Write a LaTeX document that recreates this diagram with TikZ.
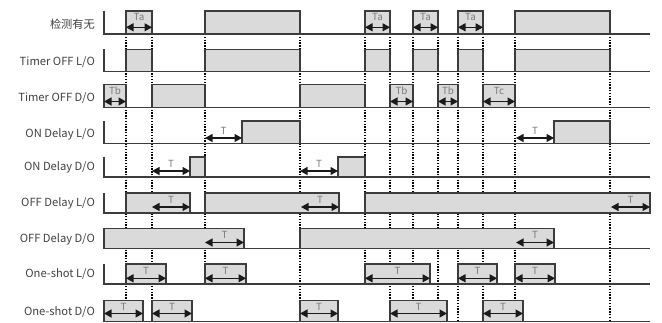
\documentclass[tikz,border=0pt]{standalone}
\usepackage{fontspec}
\setmainfont{Noto Sans CJK SC}
\usetikzlibrary{arrows.meta}
\definecolor{labc}{HTML}{404040}
\definecolor{tc}{HTML}{7A7A7A}
\definecolor{linec}{HTML}{3C3C3C}
\definecolor{boxfill}{HTML}{DADADA}
\definecolor{arrc}{HTML}{1A1A1A}
\begin{document}
\begin{tikzpicture}[x=1pt,y=-1pt,
  lab/.style={anchor=east, font=\fontsize{11.2}{13}\selectfont, text=labc, inner sep=0pt},
  tlab/.style={font=\fontsize{9.8}{11}\selectfont, text=tc, inner sep=0pt},
  sig/.style={draw=linec, fill=boxfill, line width=1.2pt},
  baseln/.style={draw=linec, line width=1.3pt},
  tarrow/.style={{Triangle[length=7.5pt,width=8pt]}-{Triangle[length=7.5pt,width=8pt]}, line width=1.3pt, draw=arrc, fill=arrc},
  guide/.style={dash pattern=on 1.4pt off 1.4pt, line width=1.1pt, black}]
\useasboundingbox (0,0) rectangle (662,323);

% labels
\node[lab] (l1) at (95,24.5) {检测有无};
\node[lab] (l2) at (95,62) {Timer OFF L/O};
\node[lab] (l3) at (95,98) {Timer OFF D/O};
\node[lab] (l4) at (95,134) {ON Delay L/O};
\node[lab] (l5) at (95,167.5) {ON Delay D/O};
\node[lab] (l6) at (95,203.5) {OFF Delay L/O};
\node[lab] (l7) at (95,239) {OFF Delay D/O};
\node[lab] (l8) at (95,274.5) {One-shot L/O};
\node[lab] (l9) at (95,312) {One-shot D/O};

% dotted guide lines
\foreach \x/\e in {126/300,152/300,205/264,300/300,365/264,390/300,413/300,438/300,458/322,483/300,515/300,610/322}
  \draw[guide] (\x,34) -- (\x,\e);

% baselines
\draw[baseln] (104,11) -- (104,34) -- (650,34);
\draw[baseln] (104,49.5) -- (104,71.5) -- (650,71.5);
\draw[baseln] (104,107.5) -- (650,107.5);
\draw[baseln] (104,121) -- (104,143.5) -- (650,143.5);
\draw[baseln] (104,157) -- (104,177) -- (650,177);
\draw[baseln] (104,193) -- (104,213) -- (650,213);
\draw[baseln] (104,248.5) -- (650,248.5);
\draw[baseln] (104,264) -- (104,284) -- (650,284);
\draw[baseln] (104,321.5) -- (650,321.5);

% row 1
\foreach \a/\b in {126/152,205/300,365/390,413/438,458/483,515/610}
  \draw[sig] (\a,11) rectangle (\b,34);
\foreach \a/\b in {126/152,365/390,413/438,458/483}{
  \draw[tarrow] (\a,27.3) -- (\b,27.3);
  \node[tlab] (ta\a) at ({(\a+\b)/2},17.3) {Ta};}

% row 2
\foreach \a/\b in {126/152,205/300,365/390,413/438,458/483,515/610}
  \draw[sig] (\a,49.5) rectangle (\b,71.5);

% row 3
\foreach \a/\b in {104/126,152/205,300/365,390/413,438/458,483/515}
  \draw[sig] (\a,84.5) rectangle (\b,107.5);
\foreach \a/\b/\t in {104/126/Tb,390/413/Tb,438/458/Tb,483/515/Tc}{
  \draw[tarrow] (\a,101.5) -- (\b,101.5);
  \node[tlab] (tb\a) at ({(\a+\b)/2},91) {\t};}

% row 4
\foreach \a/\b in {242/300,554/610}
  \draw[sig] (\a,121) rectangle (\b,143.5);
\foreach \a/\b in {205/242,516/554}{
  \draw[tarrow] (\a,138) -- (\b,138);
  \node[tlab] (td\a) at ({(\a+\b)/2},130.5) {T};}

% row 5
\foreach \a/\b in {190/205,338/365}
  \draw[sig] (\a,157) rectangle (\b,177);
\foreach \a/\b in {152/190,300/338}{
  \draw[tarrow] (\a,171) -- (\b,171);
  \node[tlab] (te\a) at ({(\a+\b)/2},163.5) {T};}

% row 6
\foreach \a/\b in {126/190,205/339,365/650}
  \draw[sig] (\a,193) rectangle (\b,213);
\foreach \a/\b in {152/190,301/339,611/650}{
  \draw[tarrow] (\a,207) -- (\b,207);
  \node[tlab] (tf\a) at ({(\a+\b)/2},199.5) {T};}

% row 7
\foreach \a/\b in {104/244,300/554}
  \draw[sig] (\a,228.5) rectangle (\b,248.5);
\foreach \a/\b in {205/244,516/554}{
  \draw[tarrow] (\a,242.5) -- (\b,242.5);
  \node[tlab] (tg\a) at ({(\a+\b)/2},235) {T};}

% row 8
\foreach \a/\b in {126/166,205/246,365/430,458/497,515/555}{
  \draw[sig] (\a,264) rectangle (\b,284);
  \draw[tarrow] (\a,278.3) -- (\b,278.3);
  \node[tlab] (th\a) at ({(\a+\b)/2},271) {T};}

% row 9
\foreach \a/\b in {104/143,152/192,300/338,390/447,483/523}{
  \draw[sig] (\a,300.5) rectangle (\b,321.5);
  \draw[tarrow] (\a,313.5) -- (\b,313.5);
  \node[tlab] (ti\a) at ({(\a+\b)/2},306.5) {T};}
\end{tikzpicture}
\end{document}
